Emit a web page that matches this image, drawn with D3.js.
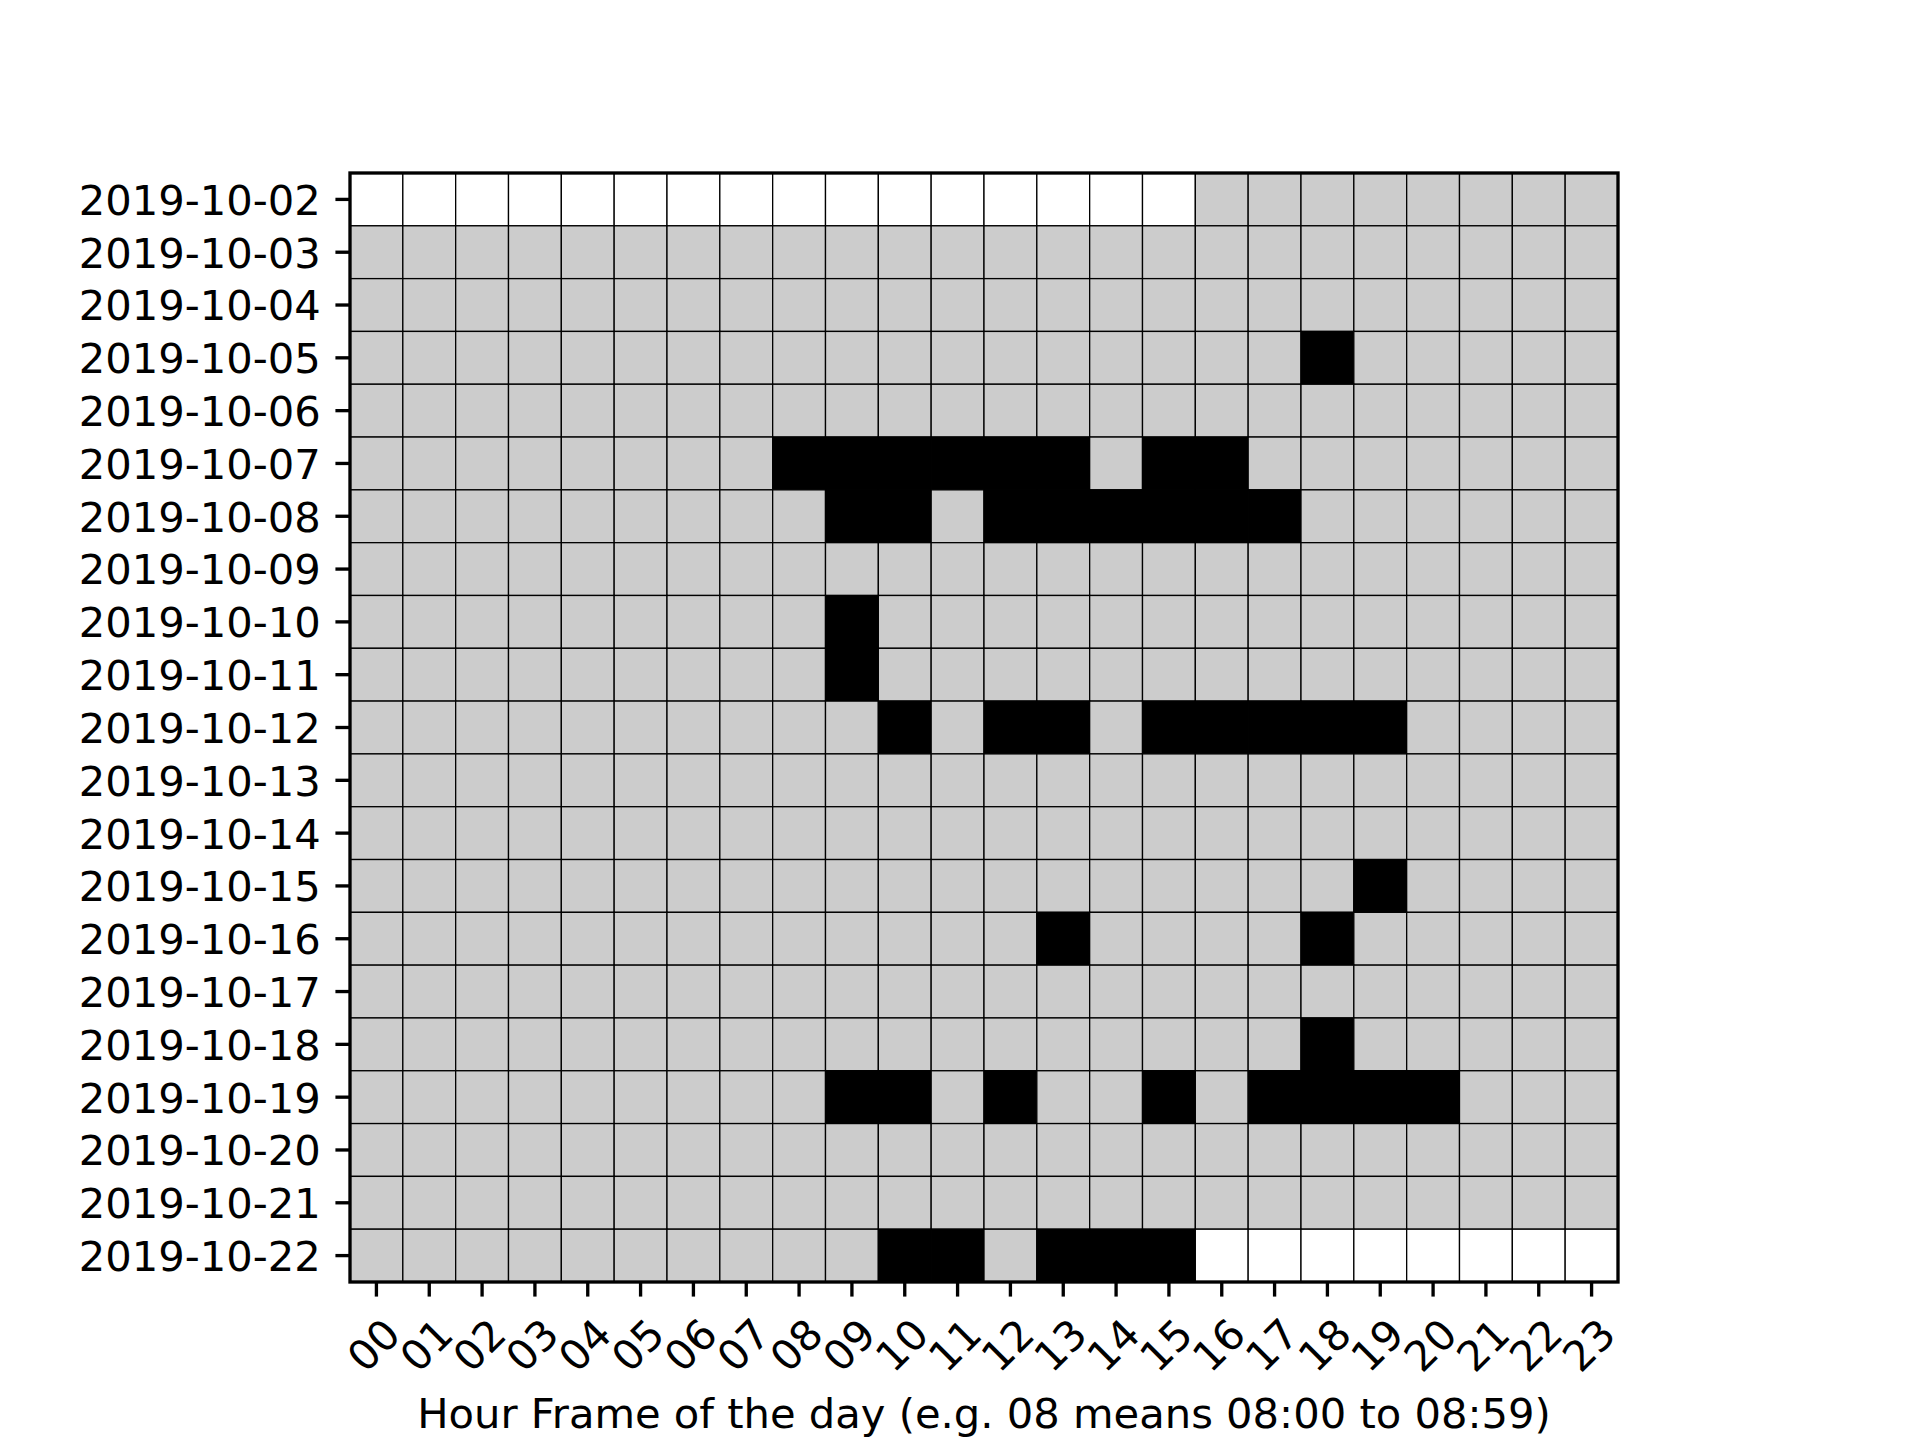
<!DOCTYPE html>
<html>
<head>
<meta charset="utf-8">
<script src="https://cdn.jsdelivr.net/npm/d3@7/dist/d3.min.js"></script>
<style>
  html, body { margin: 0; padding: 0; background: #ffffff; }
  svg text { font-family: "DejaVu Sans", sans-serif; fill: #000; }
</style>
</head>
<body>
<svg id="chart" width="1920" height="1440"></svg>
<script>
// ---- data ----
const dates = [
  "2019-10-02","2019-10-03","2019-10-04","2019-10-05","2019-10-06","2019-10-07","2019-10-08",
  "2019-10-09","2019-10-10","2019-10-11","2019-10-12","2019-10-13","2019-10-14","2019-10-15",
  "2019-10-16","2019-10-17","2019-10-18","2019-10-19","2019-10-20","2019-10-21","2019-10-22"
];
const hours = ["00","01","02","03","04","05","06","07","08","09","10","11",
               "12","13","14","15","16","17","18","19","20","21","22","23"];
// null = no data (white), 0 = inactive (grey), 1 = active (black)
const _ = null;
const activity = [
  [_,_,_,_,_,_,_,_,_,_,_,_,_,_,_,_,0,0,0,0,0,0,0,0], // 10-02
  [0,0,0,0,0,0,0,0,0,0,0,0,0,0,0,0,0,0,0,0,0,0,0,0], // 10-03
  [0,0,0,0,0,0,0,0,0,0,0,0,0,0,0,0,0,0,0,0,0,0,0,0], // 10-04
  [0,0,0,0,0,0,0,0,0,0,0,0,0,0,0,0,0,0,1,0,0,0,0,0], // 10-05
  [0,0,0,0,0,0,0,0,0,0,0,0,0,0,0,0,0,0,0,0,0,0,0,0], // 10-06
  [0,0,0,0,0,0,0,0,1,1,1,1,1,1,0,1,1,0,0,0,0,0,0,0], // 10-07
  [0,0,0,0,0,0,0,0,0,1,1,0,1,1,1,1,1,1,0,0,0,0,0,0], // 10-08
  [0,0,0,0,0,0,0,0,0,0,0,0,0,0,0,0,0,0,0,0,0,0,0,0], // 10-09
  [0,0,0,0,0,0,0,0,0,1,0,0,0,0,0,0,0,0,0,0,0,0,0,0], // 10-10
  [0,0,0,0,0,0,0,0,0,1,0,0,0,0,0,0,0,0,0,0,0,0,0,0], // 10-11
  [0,0,0,0,0,0,0,0,0,0,1,0,1,1,0,1,1,1,1,1,0,0,0,0], // 10-12
  [0,0,0,0,0,0,0,0,0,0,0,0,0,0,0,0,0,0,0,0,0,0,0,0], // 10-13
  [0,0,0,0,0,0,0,0,0,0,0,0,0,0,0,0,0,0,0,0,0,0,0,0], // 10-14
  [0,0,0,0,0,0,0,0,0,0,0,0,0,0,0,0,0,0,0,1,0,0,0,0], // 10-15
  [0,0,0,0,0,0,0,0,0,0,0,0,0,1,0,0,0,0,1,0,0,0,0,0], // 10-16
  [0,0,0,0,0,0,0,0,0,0,0,0,0,0,0,0,0,0,0,0,0,0,0,0], // 10-17
  [0,0,0,0,0,0,0,0,0,0,0,0,0,0,0,0,0,0,1,0,0,0,0,0], // 10-18
  [0,0,0,0,0,0,0,0,0,1,1,0,1,0,0,1,0,1,1,1,1,0,0,0], // 10-19
  [0,0,0,0,0,0,0,0,0,0,0,0,0,0,0,0,0,0,0,0,0,0,0,0], // 10-20
  [0,0,0,0,0,0,0,0,0,0,0,0,0,0,0,0,0,0,0,0,0,0,0,0], // 10-21
  [0,0,0,0,0,0,0,0,0,0,1,1,0,1,1,1,_,_,_,_,_,_,_,_]  // 10-22
];
const xLabel = "Hour Frame of the day (e.g. 08 means 08:00 to 08:59)";

// ---- layout ----
const pt = 300 / 72;
const plotL = 350, plotR = 1618, plotT = 173, plotB = 1282;
const fontPx = 10 * pt;

const svg = d3.select("#chart");
const x = d3.scaleBand().domain(hours).range([plotL, plotR]).padding(0);
const y = d3.scaleBand().domain(dates).range([plotT, plotB]).padding(0);
const color = v => v === null ? "#ffffff" : (v === 1 ? "#000000" : "#cccccc");

const cells = [];
activity.forEach((row, i) => row.forEach((v, j) => cells.push({date: dates[i], hour: hours[j], v})));

svg.append("g").selectAll("rect").data(cells).join("rect")
  .attr("x", d => x(d.hour))
  .attr("y", d => y(d.date))
  .attr("width", x.bandwidth())
  .attr("height", y.bandwidth())
  .attr("fill", d => color(d.v))
  .attr("stroke", "#000")
  .attr("stroke-width", 1.3);

// spines
svg.append("rect")
  .attr("x", plotL).attr("y", plotT)
  .attr("width", plotR - plotL).attr("height", plotB - plotT)
  .attr("fill", "none").attr("stroke", "#000").attr("stroke-width", 0.8 * pt);

// x axis
const xAxis = svg.append("g")
  .attr("transform", `translate(0,${plotB})`)
  .call(d3.axisBottom(x).tickSize(3.5 * pt).tickSizeOuter(0));
xAxis.select(".domain").remove();
xAxis.selectAll(".tick line").attr("stroke", "#000").attr("stroke-width", 0.8 * pt);
xAxis.selectAll(".tick text")
  .attr("font-size", fontPx)
  .attr("font-family", "DejaVu Sans")
  .attr("text-anchor", "middle")
  .attr("x", 0)
  .attr("y", 0)
  .attr("transform", "translate(-3,63) rotate(-45)")
  .attr("dy", "0.36em");

// y axis
const yAxis = svg.append("g")
  .attr("transform", `translate(${plotL},0)`)
  .call(d3.axisLeft(y).tickSize(3.5 * pt).tickSizeOuter(0).tickPadding(3.5 * pt));
yAxis.select(".domain").remove();
yAxis.selectAll(".tick line").attr("stroke", "#000").attr("stroke-width", 0.8 * pt);
yAxis.selectAll(".tick text")
  .attr("font-size", fontPx)
  .attr("font-family", "DejaVu Sans")
  .attr("dy", "0.37em");

// x label
svg.append("text")
  .attr("x", (plotL + plotR) / 2)
  .attr("y", 1428)
  .attr("text-anchor", "middle")
  .attr("font-size", fontPx)
  .text(xLabel);
</script>
</body>
</html>
